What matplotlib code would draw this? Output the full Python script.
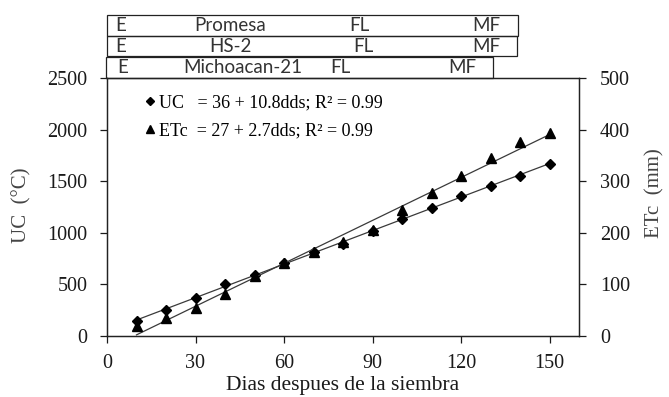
import numpy as np
import matplotlib
matplotlib.use("Agg")
from matplotlib import pyplot as plt
from matplotlib.patches import Rectangle
from matplotlib.lines import Line2D

dds = [10, 20, 30, 40, 50, 60, 70, 80, 90, 100, 110, 120, 130, 140, 150]
uc = [145, 249, 371, 501, 591, 710, 811, 891, 1017, 1134, 1243, 1357, 1457, 1553, 1664]
etc = [19, 35, 55, 81, 116, 141, 163, 183, 205, 244, 278, 311, 344, 376, 393]

uc_ticks = [0, 500, 1000, 1500, 2000, 2500]
etc_ticks = [0, 100, 200, 300, 400, 500]
x_ticks = [0, 30, 60, 90, 120, 150]

lbl_uc = "UC   = 36 + 10.8dds; R\u00b2 = 0.99"
lbl_etc = "ETc  = 27 + 2.7dds; R\u00b2 = 0.99"

# fenologia: variedad, pos. x de los textos (px), caja (px)
fases = [
    ("Promesa", [121, 230, 359, 486], (107, 15, 518, 36)),
    ("HS-2", [121, 230, 363, 486], (107, 36, 517, 56)),
    ("Michoacan-21", [123, 243, 340, 462], (106, 57, 493, 78)),
]

W, H = 669, 397
plt.rcParams['font.family'] = ['Liberation Serif', 'DejaVu Serif']
fig = plt.figure(figsize=(W / 100, H / 100), dpi=100)
ax = fig.add_axes([107 / W, 1 - 336 / H, (579 - 107) / W, (336 - 78) / H])
ax2 = ax.twinx()

col = '#1a1a1a'
lc = '#3a3a3a'

# ajustes lineales
x = np.array(dds, dtype=float)
p1 = np.polyfit(x, uc, 1)
p2 = np.polyfit(x, etc, 1)
xf = np.array([10, 150])
ax.plot(xf, np.polyval(p1, xf), color=lc, lw=0.9)
ax2.plot(xf, np.polyval(p2, xf), color=lc, lw=0.9)
ax.plot(dds, uc, 'D', color='black', ms=5, ls='none')
ax2.plot(dds, etc, '^', color='black', ms=6.5, ls='none')

ax.set_xlim(0, 160)
ax.set_ylim(0, 2500)
ax2.set_ylim(0, 500)
ax.set_xticks(x_ticks)
ax.set_yticks(uc_ticks)
ax2.set_yticks(etc_ticks)

for a in (ax, ax2):
    for s in a.spines.values():
        s.set_color('#222222')
        s.set_linewidth(0.9)
ax.tick_params(axis='x', direction='out', length=5, width=0.9, pad=8, labelsize=14.5, colors=col)
ax.tick_params(axis='y', direction='out', length=5, width=0.9, pad=9, labelsize=14.5, colors=col)
ax2.tick_params(axis='y', direction='out', length=5, width=0.9, pad=10, labelsize=14.5, colors=col)

ax.set_xlabel('Dias despues de la siembra', fontsize=15.5, color=col, labelpad=2)
fig.text(22 / W, 1 - 205 / H, 'UC  (\u00b0C)', rotation=90, ha='center', va='center',
         fontsize=15, color='#444444')
fig.text(655 / W, 1 - 193 / H, 'ETc  (mm)', rotation=90, ha='center', va='center',
         fontsize=15, color='#444444')

h1 = Line2D([], [], marker='D', color='black', ms=4.5, ls='none')
h2 = Line2D([], [], marker='^', color='black', ms=6, ls='none')
ax.legend([h1, h2], [lbl_uc, lbl_etc], loc='upper left', bbox_to_anchor=(0.065, 0.965),
          frameon=False, fontsize=13, handlelength=0.6, handletextpad=0.2,
          labelspacing=0.6, borderaxespad=0)

# cajas de etapas fenologicas
for name, xs, (x0, y0, x1, y1) in fases:
    fig.add_artist(Rectangle((x0 / W, 1 - y1 / H), (x1 - x0) / W, (y1 - y0) / H,
                             transform=fig.transFigure, fill=False, ec='#222222', lw=0.9))
    yc = 1 - (y0 + y1) / 2 / H
    for t, xp in zip(['E', name, 'FL', 'MF'], xs):
        fig.text(xp / W, yc, t, ha='center', va='center', fontsize=13.5,
                 family=['Lato', 'DejaVu Sans'], color='#333333')

fig.savefig('out.png', dpi=100)
